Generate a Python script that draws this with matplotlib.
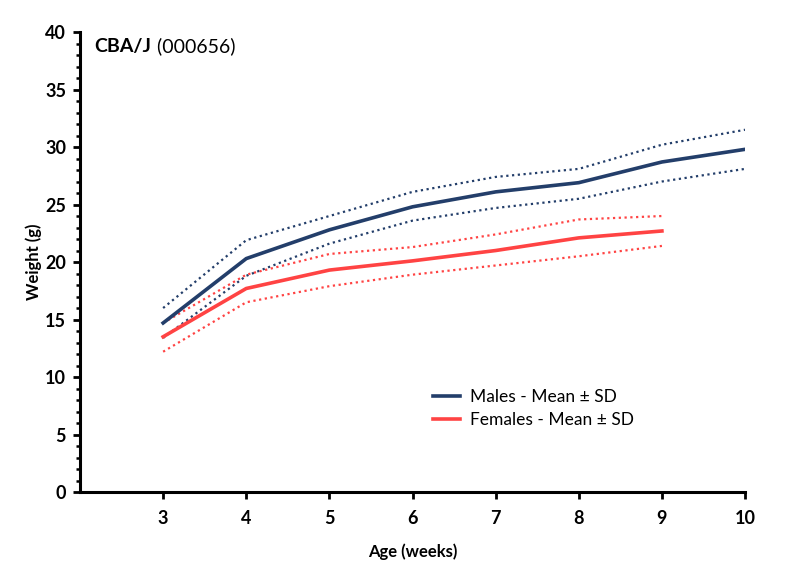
import matplotlib
matplotlib.use('Agg')
import matplotlib.pyplot as plt
from matplotlib.lines import Line2D
from matplotlib.ticker import MultipleLocator

plt.rcParams['font.family'] = ['Lato', 'DejaVu Sans']

weeks_m = [3, 4, 5, 6, 7, 8, 9, 10]
males_mean = [14.7, 20.3, 22.8, 24.8, 26.1, 26.9, 28.7, 29.8]
males_upper = [16.0, 21.9, 24.0, 26.1, 27.4, 28.1, 30.2, 31.5]
males_lower = [13.4, 18.8, 21.6, 23.6, 24.7, 25.5, 27.0, 28.1]

weeks_f = [3, 4, 5, 6, 7, 8, 9]
females_mean = [13.5, 17.7, 19.3, 20.1, 21.0, 22.1, 22.7]
females_upper = [14.7, 18.9, 20.7, 21.3, 22.4, 23.7, 24.0]
females_lower = [12.2, 16.5, 17.9, 18.9, 19.7, 20.5, 21.4]

MALE_COLOR = '#233e6a'
FEMALE_COLOR = '#ff4343'

fig = plt.figure(figsize=(8, 5.75), dpi=100)
ax = fig.add_axes([0.1, 0.1443, 0.8313, 0.8])

dot = (0, (1, 1.6))
ax.plot(weeks_m, males_upper, color=MALE_COLOR, lw=1.6, ls=dot)
ax.plot(weeks_m, males_lower, color=MALE_COLOR, lw=1.6, ls=dot)
ax.plot(weeks_f, females_upper, color=FEMALE_COLOR, lw=1.6, ls=dot)
ax.plot(weeks_f, females_lower, color=FEMALE_COLOR, lw=1.6, ls=dot)
ax.plot(weeks_m, males_mean, color=MALE_COLOR, lw=2.6)
ax.plot(weeks_f, females_mean, color=FEMALE_COLOR, lw=2.6)

ax.set_xlim(2, 10)
ax.set_ylim(0, 40)
ax.set_xticks(weeks_m)
ax.yaxis.set_major_locator(MultipleLocator(5))
ax.yaxis.set_minor_locator(MultipleLocator(1))

for side in ('top', 'right'):
	ax.spines[side].set_visible(False)
for side in ('left', 'bottom'):
	ax.spines[side].set_linewidth(2.2)
ax.tick_params(axis='both', which='major', width=2, length=5, labelsize=13, pad=5)
ax.tick_params(axis='x', which='major', pad=8)
ax.tick_params(axis='y', which='minor', width=1.8, length=3)
for lbl in ax.get_xticklabels() + ax.get_yticklabels():
	lbl.set_fontweight('bold')

ax.set_xlabel('Age (weeks)', fontsize=12, fontweight='bold', labelpad=12)
ax.set_ylabel('Weight (g)', fontsize=12, fontweight='bold', labelpad=2)

title = ax.text(0.022, 0.987, 'CBA/J', transform=ax.transAxes, fontsize=14,
	fontweight='bold', va='top', ha='left')
ax.annotate(' (000656)', xy=(1, 0), xycoords=title, fontsize=14,
	va='bottom', ha='left')

handles = [
	Line2D([], [], color=MALE_COLOR, lw=2.6),
	Line2D([], [], color=FEMALE_COLOR, lw=2.6),
]
ax.legend(handles, ['Males - Mean ± SD', 'Females - Mean ± SD'],
	loc='upper left', bbox_to_anchor=(0.508, 0.258), frameon=False,
	fontsize=12.5, handlelength=1.5, handletextpad=0.6, labelspacing=0.42)

fig.savefig('out.png', dpi=100)
